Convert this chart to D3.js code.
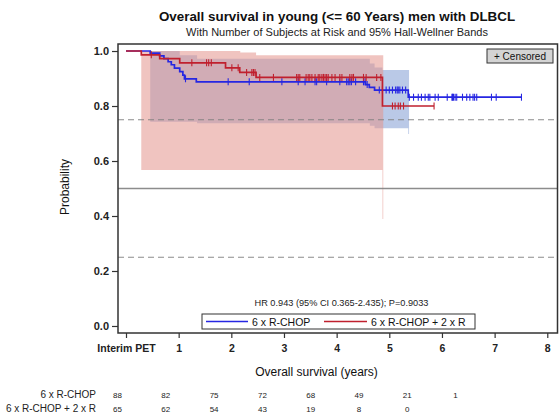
<!DOCTYPE html>
<html><head><meta charset="utf-8">
<script src="https://cdn.jsdelivr.net/npm/d3@7"></script>
<style>body{margin:0;background:#fff} svg{display:block;font-family:"Liberation Sans",Arial,sans-serif}</style>
</head><body><svg id="c" width="559" height="419"></svg>
<script>
// ---- data ----
const seriesNames = ["6 x R-CHOP", "6 x R-CHOP + 2 x R"];
const blueTimes = [0,0.46,0.64,0.72,0.80,0.86,0.92,1.02,1.08,1.11,1.335,4.55,4.62,4.72,5.36,7.51];
const blueSurv  = [1,0.992,0.982,0.972,0.961,0.950,0.938,0.925,0.912,0.899,0.888,0.878,0.868,0.858,0.832,0.832];
const redTimes  = [0,0.29,0.64,1.02,1.89,2.16,2.47,4.87,5.85];
const redSurv   = [1,0.986,0.972,0.957,0.939,0.922,0.904,0.800,0.800];
const blueCensor = [1.13,1.94,2.34,2.96,3.27,3.40,3.59,3.62,3.81,4.06,4.19,4.22,4.25,4.28,4.36,4.51,4.54,4.58,4.81,4.87,4.94,5.00,5.06,5.12,5.15,5.17,5.20,5.25,5.31,5.38,5.46,5.55,5.61,5.68,5.74,5.77,5.87,5.93,6.10,6.19,6.20,6.22,6.25,6.28,6.39,6.47,6.53,6.59,6.62,6.66,6.94,7.03,7.51];
const redCensor = [0.48,1.25,1.53,1.57,1.62,2.01,2.13,2.29,2.39,2.42,2.45,2.54,2.80,3.24,3.27,3.30,3.42,3.46,3.49,3.53,3.59,3.65,3.68,3.72,3.75,3.78,3.81,3.84,3.91,3.97,4.06,4.10,4.25,4.29,4.32,4.51,4.56,4.76,4.84,5.06,5.11,5.17,5.21,5.27,5.85];
const blueBandTimes = [0.46,1.02,1.35,4.63,4.72,4.87,5.36,5.375];
const blueBandLower = [0.743,0.743,0.737,0.728,0.719,0.719,0.698,0.698];
const blueBandUpper = [1.0,0.985,0.972,0.955,0.94,0.931,0.931,0.931];
const redBandTimes = [0.29,2.17,2.47,4.87,4.885];
const redBandLower = [0.567,0.567,0.567,0.389,0.389];
const redBandUpper = [1.0,0.995,0.985,0.985,0.985];
const xTickValues = [0,1,2,3,4,5,6,7,8];
const xTickLabels = ["Interim PET","1","2","3","4","5","6","7","8"];
const yTickValues = [0,0.2,0.4,0.6,0.8,1.0];
const refLines = [0.25,0.5,0.75];
const atRiskTimes = [0,1,2,3,4,5,6,7];
const atRiskBlue = [88,82,75,72,68,49,21,1];
const atRiskRed  = [65,62,54,43,19,8,0];
const hrText = "HR 0.943 (95% CI 0.365-2.435); P=0.9033";

// ---- drawing ----
const svg = d3.select("#c");
const BLUE = "#2626e2", RED = "#c0202e";
const x = d3.scaleLinear().domain([-0.152, 8.194]).range([118, 557.5]);
const y = d3.scaleLinear().domain([-0.0255, 1.0255]).range([333, 44]);
const xr = d3.scaleLinear().domain([0,7]).range([117.5, 455.6]);

const zip3 = (t,a,b)=>t.map((d,i)=>({t:d,lo:a[i],hi:b[i]}));
const area = d3.area().curve(d3.curveStepAfter).x(d=>x(d.t)).y0(d=>y(d.lo)).y1(d=>y(d.hi));
svg.append("path").attr("d", area(zip3(blueBandTimes,blueBandLower,blueBandUpper)))
  .attr("fill","rgb(186,201,231)");
svg.append("path").attr("d", area(zip3(redBandTimes,redBandLower,redBandUpper)))
  .attr("fill","rgb(228,148,140)").attr("fill-opacity",0.55);

// reference lines
svg.selectAll("line.ref").data(refLines).join("line")
  .attr("x1",118).attr("x2",557.5).attr("y1",d=>y(d)).attr("y2",d=>y(d))
  .attr("stroke","#808080").attr("stroke-opacity",0.9).attr("stroke-width",d=>d===0.5?1.5:1.2)
  .attr("stroke-dasharray",d=>d===0.5?null:"6,4");

// curves
const line = d3.line().curve(d3.curveStepAfter).x(d=>x(d.t)).y(d=>y(d.s));
const stepVal = (times,surv,t)=>{let v=surv[0];for(let i=0;i<times.length;i++){if(times[i]<=t+1e-9)v=surv[i];}return v;};
function drawCurve(times,surv,cens,col){
  svg.append("path").attr("d", line(times.map((t,i)=>({t,s:surv[i]}))))
    .attr("fill","none").attr("stroke",col).attr("stroke-width",1.7);
  svg.append("g").selectAll("line").data(cens).join("line")
    .attr("x1",d=>x(d)).attr("x2",d=>x(d))
    .attr("y1",d=>y(stepVal(times,surv,d))-3.5).attr("y2",d=>y(stepVal(times,surv,d))+3.5)
    .attr("stroke",col).attr("stroke-width",1.1);
}
drawCurve(blueTimes,blueSurv,blueCensor,BLUE);
drawCurve(redTimes,redSurv,redCensor,RED);

// frame
svg.append("rect").attr("x",118).attr("y",44).attr("width",439.5).attr("height",289)
  .attr("fill","none").attr("stroke","#333").attr("stroke-width",1.5);

// axes
const yAxis = d3.axisLeft(y).tickValues(yTickValues).tickFormat(d3.format(".1f")).tickSize(6).tickSizeOuter(0);
const gy = svg.append("g").attr("transform","translate(118,0)").call(yAxis);
gy.select(".domain").remove();
gy.selectAll("text").attr("font-size",11).attr("font-weight","bold").attr("fill","#222").attr("font-family","Liberation Sans, Arial");
gy.selectAll("line").attr("stroke","#333").attr("stroke-width",1.2);

const xAxis = d3.axisBottom(x).tickValues(xTickValues).tickFormat((d,i)=>xTickLabels[i]).tickSize(5).tickSizeOuter(0);
const gx = svg.append("g").attr("transform","translate(0,333)").call(xAxis);
gx.select(".domain").remove();
gx.selectAll("text").attr("font-size",10.5).attr("font-weight","bold").attr("fill","#222").attr("font-family","Liberation Sans, Arial").attr("dy","1.05em");
gx.selectAll("line").attr("stroke","#333").attr("stroke-width",1.2);

// titles
svg.append("text").attr("x",337).attr("y",21).attr("text-anchor","middle")
  .attr("font-size",13.4).attr("font-weight","bold").attr("fill","#111")
  .text("Overall survival in young (<= 60 Years) men with DLBCL");
svg.append("text").attr("x",337).attr("y",36).attr("text-anchor","middle")
  .attr("font-size",11).attr("fill","#222")
  .text("With Number of Subjects at Risk and 95% Hall-Wellner Bands");
svg.append("text").attr("transform","translate(69,187) rotate(-90)").attr("text-anchor","middle")
  .attr("font-size",12).attr("fill","#111").text("Probability");
svg.append("text").attr("x",316.5).attr("y",376).attr("text-anchor","middle")
  .attr("font-size",12).attr("fill","#111").text("Overall survival (years)");

// censored legend
svg.append("rect").attr("x",487).attr("y",49).attr("width",66).attr("height",14)
  .attr("fill","#d4d4d4").attr("stroke","#333").attr("stroke-width",1);
svg.append("text").attr("x",520).attr("y",60).attr("text-anchor","middle")
  .attr("font-size",10).attr("fill","#111").text("+ Censored");

// HR text
svg.append("text").attr("x",341.5).attr("y",306).attr("text-anchor","middle")
  .attr("font-size",9.2).attr("fill","#222").text(hrText);

// bottom legend
svg.append("rect").attr("x",202).attr("y",314).attr("width",273).attr("height",15)
  .attr("fill","#fff").attr("stroke","#333").attr("stroke-width",1);
const leg = [{c:BLUE,x1:206,x2:248,tx:252,name:seriesNames[0]},{c:RED,x1:324,x2:367,tx:371,name:seriesNames[1]}];
leg.forEach(l=>{
  svg.append("line").attr("x1",l.x1).attr("x2",l.x2).attr("y1",321.5).attr("y2",321.5).attr("stroke",l.c).attr("stroke-width",1.7);
  svg.append("text").attr("x",l.tx).attr("y",325.5).attr("font-size",10.5).attr("fill","#111").text(l.name);
});

// at-risk table
const rows = [{name:seriesNames[0],vals:atRiskBlue,yy:398},{name:seriesNames[1],vals:atRiskRed,yy:412}];
rows.forEach(r=>{
  svg.append("text").attr("x",96).attr("y",r.yy).attr("text-anchor","end").attr("font-size",10).attr("fill","#222").text(r.name);
  svg.append("g").selectAll("text").data(r.vals).join("text")
    .attr("x",(d,i)=>xr(atRiskTimes[i])).attr("y",r.yy).attr("text-anchor","middle")
    .attr("font-size",8).attr("fill","#222").text(d=>d);
});
</script></body></html>
